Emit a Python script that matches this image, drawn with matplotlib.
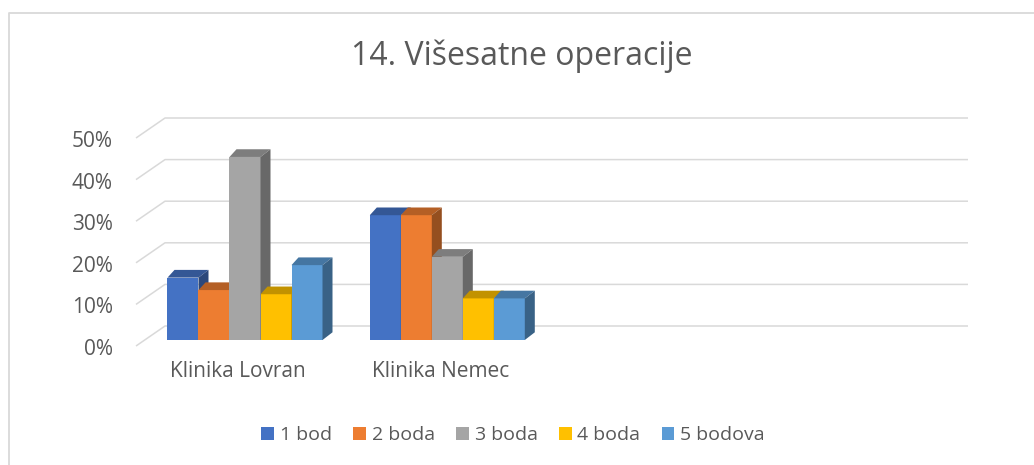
import numpy as np
import matplotlib
matplotlib.use("Agg")
import matplotlib.pyplot as plt
from matplotlib.patches import Polygon
from matplotlib.lines import Line2D
from matplotlib.colors import to_rgb

plt.rcParams['font.family'] = ['Open Sans', 'DejaVu Sans']

# data
categories = ["Klinika Lovran", "Klinika Nemec"]
series = ["1 bod", "2 boda", "3 boda", "4 boda", "5 bodova"]
values = [
    [15, 30],   # 1 bod
    [12, 30],   # 2 boda
    [44, 20],   # 3 boda
    [11, 10],   # 4 boda
    [18, 10],   # 5 bodova
]
yticks = [0, 10, 20, 30, 40, 50]
colors = ["#4472C4", "#ED7D31", "#A5A5A5", "#FFC000", "#5B9BD5"]
text_col = "#595959"
grid_col = "#D9D9D9"

W, H = 1034, 465
PX_X = 202.3   # pixels per category slot
PX_Y = 4.16    # pixels per percent
X0, Y0 = 245, 340  # pixel of category 0 centre / floor

fig = plt.figure(figsize=(W / 100, H / 100), dpi=100)
ax = fig.add_axes([0, 0, 1, 1])
ax.set_xlim(-X0 / PX_X, (W - X0) / PX_X)
ax.set_ylim(-(H - Y0) / PX_Y, Y0 / PX_Y)
ax.axis("off")

# back wall / gridlines (pseudo 3d)
back_dy = 14 / PX_Y
front_dy = -6 / PX_Y
front_left = (136 - X0) / PX_X
back_left = (165 - X0) / PX_X
back_right = (968 - X0) / PX_X
for v in yticks:
    ax.plot([front_left, back_left, back_right], [v + front_dy, v + back_dy, v + back_dy],
            color=grid_col, lw=1.1, zorder=1, solid_capstyle='butt')
    ax.text((113 - X0) / PX_X, v - 15 / PX_Y, f"{v}%", ha="right", va="baseline",
            fontsize=15, color=text_col)

# bars
x = np.arange(len(categories))
bw = 31 / PX_X
dxl = 7 / PX_X
dxr = 10 / PX_X
ddy = 7.7 / PX_Y
handles = []
for i, (name, vals, c) in enumerate(zip(series, values, colors)):
    left = x - 2.5 * bw + i * bw
    bars = ax.bar(left, vals, width=bw, align="edge", color=c, zorder=3 + i,
                  edgecolor="none", label=name)
    handles.append(bars)
    rgb = np.array(to_rgb(c))
    for xl, v in zip(left, vals):
        top = Polygon([(xl, v), (xl + bw, v), (xl + bw + dxr, v + ddy), (xl + dxl, v + ddy)],
                      closed=True, facecolor=rgb * 0.76, edgecolor="none", zorder=3 + i)
        side = Polygon([(xl + bw, 0), (xl + bw + dxr, ddy), (xl + bw + dxr, v + ddy), (xl + bw, v)],
                       closed=True, facecolor=rgb * 0.63, edgecolor="none", zorder=3 + i)
        ax.add_patch(top)
        ax.add_patch(side)

for xi, cat in zip(x, categories):
    ax.text(xi - 7 / PX_X, -37 / PX_Y, cat, ha="center", va="baseline",
            fontsize=15, color=text_col)

fig.text(521.5 / W, 1 - 65 / H, "14. Višesatne operacije", ha="center", va="baseline",
         fontsize=23, color=text_col)

leg = fig.legend(handles, series, loc="center", bbox_to_anchor=(513 / W, 1 - 435 / H),
                 ncol=5, frameon=False, fontsize=14, handlelength=0.65, handleheight=0.65,
                 handletextpad=0.3, columnspacing=1.1)
for t in leg.get_texts():
    t.set_color(text_col)

# chart border (only left/top visible in crop)
fig.add_artist(Line2D([8.5 / W, 8.5 / W, 1], [0, 1 - 13 / H, 1 - 13 / H],
                      transform=fig.transFigure, color=grid_col, lw=1.3))

fig.savefig("out.png", dpi=100)
